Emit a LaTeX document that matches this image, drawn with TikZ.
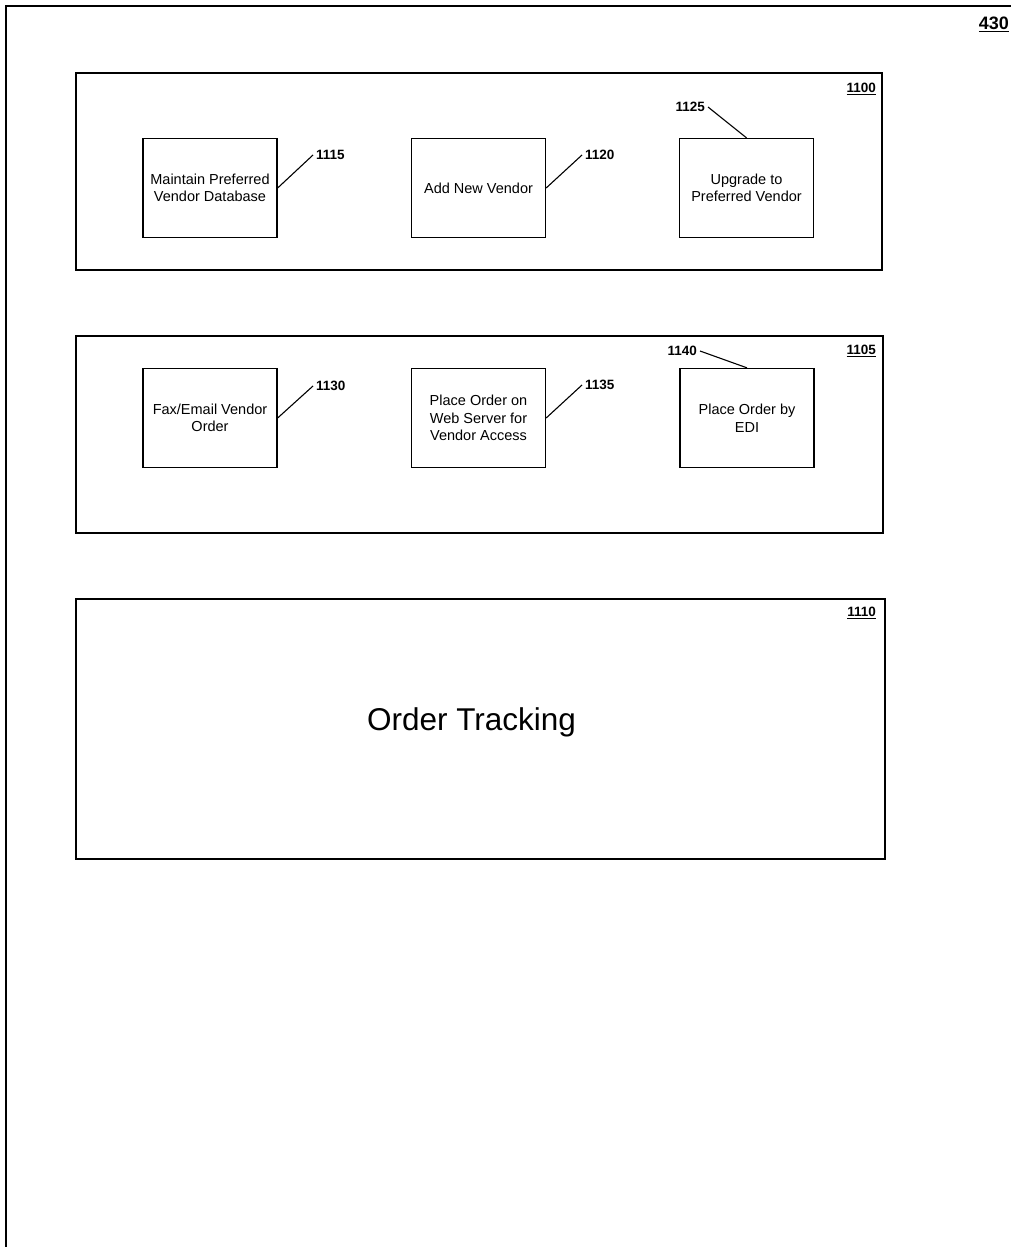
\documentclass[tikz,border=0pt]{standalone}
\usepackage{fontspec}
\setmainfont{Liberation Sans}
\begin{document}
\begin{tikzpicture}[x=1pt,y=-1pt,
  frame/.style={line width=1.4pt},
  group/.style={draw,line width=1.4pt,rectangle,inner sep=0pt},
  stepbox/.style={draw,line width=1.3pt,rectangle,minimum width=134pt,minimum height=99pt,
     align=center,inner sep=2pt,font=\fontsize{14.5}{17.5}\selectfont},
  lbl/.style={inner sep=3pt,font=\bfseries\fontsize{13.5}{16}\selectfont},
  ref/.style={inner sep=0pt,font=\bfseries\fontsize{13.5}{15}\selectfont},
  leader/.style={line width=1.1pt}]
\useasboundingbox (0,0) rectangle (1011,1247);
% outer frame
\draw[frame] (6,1250) -- (6,6) -- (1014,6);
\node[inner sep=0pt,anchor=east,font=\bfseries\fontsize{18}{20}\selectfont] (n430) at (1009,24) {\underline{430}};
% group boxes
\node[group,minimum width=806pt,minimum height=197pt] (g1100) at (479,171.5) {};
\node[group,minimum width=807pt,minimum height=197pt] (g1105) at (479.5,434.5) {};
\node[group,minimum width=809pt,minimum height=260pt] (g1110) at (480.5,729) {};
\node[ref,anchor=east] (r1100) at (876,89) {\underline{1100}};
\node[ref,anchor=east] (r1105) at (876,351) {\underline{1105}};
\node[ref,anchor=east] (r1110) at (876,613) {\underline{1110}};
% row 1
\node[stepbox] (b1115) at (210,188) {Maintain Preferred\\Vendor Database};
\node[stepbox] (b1120) at (478.5,188) {Add New Vendor};
\node[stepbox] (b1125) at (746.5,188) {Upgrade to\\Preferred Vendor};
% row 2
\node[stepbox] (b1130) at (210,418) {Fax/Email Vendor\\Order};
\node[stepbox] (b1135) at (478.5,418) {Place Order on\\Web Server for\\Vendor Access};
\node[stepbox] (b1140) at (747,418) {Place Order by\\EDI};
% order tracking
\node[inner sep=0pt,font=\fontsize{31.5}{36}\selectfont] (ot) at (471.5,722) {Order Tracking};
% reference labels
\node[lbl,anchor=west] (l1115) at (313,155) {1115};
\node[lbl,anchor=west] (l1120) at (582,155) {1120};
\node[lbl,anchor=east] (l1125) at (708,107) {1125};
\node[lbl,anchor=west] (l1130) at (313,386) {1130};
\node[lbl,anchor=west] (l1135) at (582,385) {1135};
\node[lbl,anchor=east] (l1140) at (700,351) {1140};
% leaders
\draw[leader] (b1115.east) -- (l1115.west);
\draw[leader] (b1120.east) -- (l1120.west);
\draw[leader] (b1125.north) -- (l1125.east);
\draw[leader] (b1130.east) -- (l1130.west);
\draw[leader] (b1135.east) -- (l1135.west);
\draw[leader] (b1140.north) -- (l1140.east);
\end{tikzpicture}
\end{document}
